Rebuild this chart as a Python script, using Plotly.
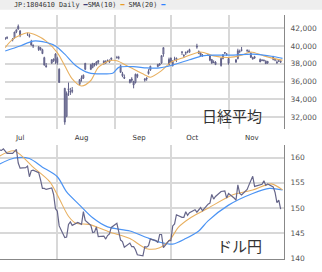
import plotly.graph_objects as go

# ---------------- Nikkei 225 daily OHLC ----------------
nk_dates = ["2024-07-04","2024-07-05","2024-07-08","2024-07-09","2024-07-10","2024-07-11","2024-07-12",
"2024-07-16","2024-07-17","2024-07-18","2024-07-19","2024-07-22","2024-07-23","2024-07-24","2024-07-25",
"2024-07-26","2024-07-29","2024-07-30","2024-07-31","2024-08-01","2024-08-02","2024-08-05","2024-08-06",
"2024-08-07","2024-08-08","2024-08-09","2024-08-13","2024-08-14","2024-08-15","2024-08-16","2024-08-19",
"2024-08-20","2024-08-21","2024-08-22","2024-08-23","2024-08-26","2024-08-27","2024-08-28","2024-08-29",
"2024-08-30","2024-09-02","2024-09-03","2024-09-04","2024-09-05","2024-09-06","2024-09-09","2024-09-10",
"2024-09-11","2024-09-12","2024-09-13","2024-09-17","2024-09-18","2024-09-19","2024-09-20","2024-09-24",
"2024-09-25","2024-09-26","2024-09-27","2024-09-30","2024-10-01","2024-10-02","2024-10-03","2024-10-04",
"2024-10-07","2024-10-08","2024-10-09","2024-10-10","2024-10-11","2024-10-15","2024-10-16","2024-10-17",
"2024-10-18","2024-10-21","2024-10-22","2024-10-23","2024-10-24","2024-10-25","2024-10-28","2024-10-29",
"2024-10-30","2024-10-31","2024-11-01","2024-11-05","2024-11-06","2024-11-07","2024-11-08","2024-11-11",
"2024-11-12","2024-11-13","2024-11-14","2024-11-15","2024-11-18","2024-11-19","2024-11-20","2024-11-21",
"2024-11-22","2024-11-25","2024-11-26","2024-11-27","2024-11-28","2024-11-29"]
nk_open = [40800,40950,40700,40900,41600,41900,41700,41300,41200,40500,40000,39900,39800,39600,38700,
37800,38100,38400,38300,38600,37400,35250,32100,35200,34900,34900,35700,36300,36400,37400,37900,
37600,37900,37900,38200,38300,38100,38300,38200,38500,38700,38700,37800,36900,36500,35900,36300,
36000,35900,36800,36300,36300,36900,37300,37700,38000,38100,39100,38500,38200,38300,38500,38500,
39300,38900,39200,39400,39300,40000,39400,39200,38900,39000,38900,38500,38200,38200,37800,38600,
39200,39100,38600,38200,38600,39400,39600,39500,39400,39200,38700,38800,38500,38400,38400,38300,
38100,38500,38500,38200,38300,38300]
nk_high = [40950,41100,40900,41600,41850,42426,41800,41500,41400,40700,40200,40000,39900,39700,38800,
38100,38500,38600,39200,38800,37500,35300,34900,35900,35300,35400,36300,36700,36800,38100,38000,
38100,38100,38300,38400,38400,38400,38500,38500,38700,38900,38900,37900,37100,36800,36300,36500,
36100,36900,36900,36400,36500,37400,37800,38000,38100,38950,39830,38700,38700,38400,38800,38700,
39400,39100,39400,39500,39700,40257,39500,39300,39100,39100,38950,38500,38400,38300,38700,39100,
39300,39200,38700,38500,39700,39600,39900,39600,39600,39300,38800,38900,38600,38500,38500,38400,
38300,38900,38500,38400,38400,38400]
nk_low = [40700,40780,40530,40850,41450,41850,41000,41150,40950,40050,39780,39450,39500,39100,37800,
37600,38000,38200,38000,37900,35880,31156,32000,34400,34500,34700,35600,36000,36300,37300,37300,
37500,37700,37800,38000,37900,38000,38200,38100,38400,38600,38500,37000,36500,36300,35800,35900,
35250,35800,36400,36000,36100,36800,37200,37600,37800,38000,38800,37800,38100,37700,38400,38200,
39000,38700,39000,39200,39300,39700,39100,38800,38800,38900,38300,38000,38100,37900,37700,38500,
39100,38900,37900,38100,38500,39200,39400,39300,39300,38700,38500,38600,38200,38300,38300,38000,
38000,38400,38300,38000,38200,38100]
nk_close = [40913,40912,40780,41580,41831,42224,41190,41275,41098,40126,40064,39599,39594,39155,37870,
37667,38469,38526,39102,38126,35910,31458,34675,35090,34831,35025,36233,36443,36727,38063,37389,
38063,37951,38211,38364,38110,38288,38372,38363,38648,38701,38686,37047,36657,36392,36215,36159,
35620,36833,36581,36203,36380,37155,37724,37941,37870,38926,39830,37920,38652,37809,38552,38636,
39333,38937,39278,39381,39605,39911,39181,38911,38982,38955,38412,38105,38143,37914,38605,39028,
39277,39081,38054,38475,39481,39381,39500,39533,39377,38722,38536,38643,38221,38414,38352,38026,
38284,38780,38442,38135,38349,38208]

# moving averages (top panel)
nk_sma10_dates = ["2024-07-04","2024-07-08","2024-07-16","2024-07-21","2024-07-26","2024-08-01","2024-08-05",
"2024-08-09","2024-08-14","2024-08-19","2024-08-23","2024-08-29","2024-09-02","2024-09-09","2024-09-17",
"2024-09-20","2024-09-26","2024-10-01","2024-10-08","2024-10-17","2024-10-24","2024-11-01","2024-11-08",
"2024-11-13","2024-11-20","2024-11-27","2024-11-30"]
nk_sma10 = [39830,40750,41490,41190,40560,39270,37790,36320,35510,36130,37610,38350,38350,37610,36760,
36500,37240,38170,38720,39340,38900,38720,38980,39340,38900,38530,38420]
nk_sma20_dates = ["2024-07-04","2024-07-12","2024-07-19","2024-07-24","2024-07-31","2024-08-05","2024-08-11",
"2024-08-18","2024-08-25","2024-08-31","2024-09-03","2024-09-11","2024-09-18","2024-09-25","2024-10-02",
"2024-10-11","2024-10-18","2024-10-25","2024-11-03","2024-11-14","2024-11-25","2024-11-30"]
nk_sma20 = [39450,40010,40560,40490,40010,39090,37790,36980,36870,36980,37610,37690,37540,37540,37870,
38460,38900,38980,38980,39090,38830,38610]

# ---------------- USD/JPY daily close ----------------
fx_dates = ["2024-07-01","2024-07-02","2024-07-03","2024-07-04","2024-07-05","2024-07-08","2024-07-09",
"2024-07-10","2024-07-11","2024-07-12","2024-07-15","2024-07-16","2024-07-17","2024-07-18","2024-07-19",
"2024-07-22","2024-07-23","2024-07-24","2024-07-25","2024-07-26","2024-07-29","2024-07-30","2024-07-31",
"2024-08-01","2024-08-02","2024-08-05","2024-08-06","2024-08-07","2024-08-08","2024-08-09","2024-08-12",
"2024-08-13","2024-08-14","2024-08-15","2024-08-16","2024-08-19","2024-08-20","2024-08-21","2024-08-22",
"2024-08-23","2024-08-26","2024-08-27","2024-08-28","2024-08-29","2024-08-30","2024-09-02","2024-09-03",
"2024-09-04","2024-09-05","2024-09-06","2024-09-09","2024-09-10","2024-09-11","2024-09-12","2024-09-13",
"2024-09-16","2024-09-17","2024-09-18","2024-09-19","2024-09-20","2024-09-23","2024-09-24","2024-09-25",
"2024-09-26","2024-09-27","2024-09-30","2024-10-01","2024-10-02","2024-10-03","2024-10-04","2024-10-07",
"2024-10-08","2024-10-09","2024-10-10","2024-10-11","2024-10-14","2024-10-15","2024-10-16","2024-10-17",
"2024-10-18","2024-10-21","2024-10-22","2024-10-23","2024-10-24","2024-10-25","2024-10-28","2024-10-29",
"2024-10-30","2024-10-31","2024-11-01","2024-11-04","2024-11-05","2024-11-06","2024-11-07","2024-11-08",
"2024-11-11","2024-11-12","2024-11-13","2024-11-14","2024-11-15","2024-11-18","2024-11-19","2024-11-20",
"2024-11-21","2024-11-22","2024-11-25","2024-11-26","2024-11-27","2024-11-28","2024-11-29"]
fx_close = [161.5,161.4,161.7,161.2,160.8,160.8,161.3,161.6,158.9,157.9,158.0,158.3,156.2,157.4,157.5,
157.0,155.6,153.9,153.9,153.7,154.0,152.7,149.9,149.4,146.5,144.2,144.3,146.8,147.3,146.6,147.2,
147.0,146.8,149.3,147.6,146.6,145.2,145.3,146.3,144.4,144.5,143.9,144.6,144.9,146.2,147.0,145.5,
143.7,143.4,142.3,143.1,142.4,142.4,141.8,140.8,140.6,142.4,142.3,142.6,143.9,143.6,143.2,144.8,
144.8,142.2,143.6,143.6,146.5,146.9,148.7,148.2,148.2,149.3,148.6,149.1,149.7,149.2,149.6,150.1,
149.5,150.8,151.0,152.7,151.8,152.3,153.3,153.4,153.4,152.0,152.9,152.0,151.6,154.6,152.9,152.6,
153.7,154.6,155.4,156.3,154.3,154.7,154.7,155.4,154.5,154.8,154.2,153.1,151.1,151.6,149.8]

fx_sma10_dates = ["2024-07-01","2024-07-09","2024-07-19","2024-07-28","2024-08-02","2024-08-07","2024-08-11",
"2024-08-18","2024-08-29","2024-09-09","2024-09-18","2024-09-25","2024-10-01","2024-10-05","2024-10-12",
"2024-10-21","2024-11-03","2024-11-14","2024-11-24","2024-11-30"]
fx_sma10 = [160.3,161.3,158.1,155.2,151.9,148.4,147.0,146.8,145.3,144.0,142.0,142.2,144.0,146.2,148.2,
150.0,152.6,153.6,154.8,153.6]
fx_sma20_dates = ["2024-07-01","2024-07-09","2024-07-17","2024-07-24","2024-08-01","2024-08-06","2024-08-13",
"2024-08-20","2024-08-28","2024-09-09","2024-09-18","2024-09-25","2024-10-02","2024-10-09","2024-10-16",
"2024-10-21","2024-11-01","2024-11-14","2024-11-23","2024-11-30"]
fx_sma20 = [158.7,159.9,159.8,158.1,156.2,153.2,150.6,148.1,146.3,145.5,144.2,143.3,142.9,144.0,145.5,
147.5,150.6,152.9,153.9,153.6]

nk_ticks = [32000, 34000, 36000, 38000, 40000, 42000]
fx_ticks = [140, 145, 150, 155, 160]
month_pos = ["2024-07-12", "2024-08-14", "2024-09-14", "2024-10-12 12:00", "2024-11-13 12:00"]
month_txt = ["Jul", "Aug", "Sep", "Oct", "Nov"]

W, H = 322, 272
PRICE = "#66668a"
ORANGE = "#e8b060"
BLUE = "#4c94f4"
GRID = "#d8d8d8"

fig = go.Figure()
fig.add_trace(go.Candlestick(
    x=nk_dates, open=nk_open, high=nk_high, low=nk_low, close=nk_close,
    increasing=dict(line=dict(color="#606088", width=1), fillcolor="#c0c0d4"),
    decreasing=dict(line=dict(color="#606088", width=1), fillcolor="#8484a4"),
    whiskerwidth=0, xaxis="x", yaxis="y", hoverinfo="skip"))
fig.add_trace(go.Scatter(x=nk_sma10_dates, y=nk_sma10, mode="lines", line=dict(color=ORANGE, width=1.1, shape="spline", smoothing=0.8), xaxis="x", yaxis="y"))
fig.add_trace(go.Scatter(x=nk_sma20_dates, y=nk_sma20, mode="lines", line=dict(color=BLUE, width=1.2, shape="spline", smoothing=0.8), xaxis="x", yaxis="y"))

fig.add_trace(go.Scatter(x=fx_sma20_dates, y=fx_sma20, mode="lines", line=dict(color=BLUE, width=1.2, shape="spline", smoothing=0.8), xaxis="x2", yaxis="y2"))
fig.add_trace(go.Scatter(x=fx_sma10_dates, y=fx_sma10, mode="lines", line=dict(color=ORANGE, width=1.1, shape="spline", smoothing=0.8), xaxis="x2", yaxis="y2"))
fig.add_trace(go.Scatter(x=fx_dates, y=fx_close, mode="lines", line=dict(color=PRICE, width=1.2), xaxis="x2", yaxis="y2"))

tickfont = dict(family="DejaVu Sans", size=7.5, color="#555555")
minor = dict(dtick="M1", tick0="2024-07-01", showgrid=True, gridcolor=GRID, gridwidth=1.5, ticks="")

fig.update_layout(
    width=W, height=H, margin=dict(l=0, r=0, t=0, b=0),
    paper_bgcolor="white", plot_bgcolor="white", showlegend=False,
    xaxis=dict(domain=[5/W, 284/W], range=["2024-07-03 21:17", "2024-11-30 19:12"], type="date",
               tickvals=month_pos, ticktext=month_txt, showgrid=False, ticks="", minor=minor,
               tickfont=dict(family="DejaVu Sans", size=7, color="#333333"), rangeslider=dict(visible=False),
               showline=False, zeroline=False, anchor="y", ticklabelstandoff=3),
    yaxis=dict(domain=[1-131/H, 1-15/H], range=[30671, 43517], side="right", tickvals=nk_ticks,
               tickformat=",d", showgrid=True, gridcolor=GRID, gridwidth=1.5, showline=True,
               linecolor="#888888", linewidth=1, ticks="", tickfont=tickfont, ticklabelstandoff=4,
               zeroline=False, anchor="x"),
    xaxis2=dict(domain=[0, 284/W], range=["2024-07-01 04:48", "2024-11-30 19:12"], type="date",
                showticklabels=False, showgrid=False, ticks="", minor=minor, showline=True,
                linecolor="#888888", linewidth=1, zeroline=False, anchor="y2"),
    yaxis2=dict(domain=[1-263/H, 1-147/H], range=[139.94, 162.5], side="right", tickvals=fx_ticks,
                showgrid=True, gridcolor=GRID, gridwidth=1.5, showline=True, linecolor="#888888",
                linewidth=1, ticks="", tickfont=tickfont, ticklabelstandoff=4, zeroline=False, anchor="x2"),
)

# header bar
fig.add_shape(type="rect", xref="paper", yref="paper", x0=0, x1=1, y0=1-10/H, y1=1,
              fillcolor="#eeeeee", line=dict(width=0), layer="below")
header = ("JP:1804610 Daily <span style='color:#3a3a70'>━</span>SMA(10) "
          "<span style='color:#e89a20'>━</span> SMA(20) <span style='color:#2a7fff'>━</span>")
fig.add_annotation(text=header, xref="paper", yref="paper", x=12/W, y=1-5/H, xanchor="left", yanchor="middle",
                   showarrow=False, font=dict(family="DejaVu Sans Mono", size=6.8, color="#333333"))
fig.add_annotation(text="日経平均", xref="paper", yref="paper", x=232/W, y=1-117.5/H, xanchor="center",
                   yanchor="middle", showarrow=False, font=dict(family="Noto Sans CJK JP", size=15, color="#333333"))
fig.add_annotation(text="ドル円", xref="paper", yref="paper", x=239/W, y=1-249.5/H, xanchor="center",
                   yanchor="middle", showarrow=False, font=dict(family="Noto Sans CJK JP", size=15, color="#333333"))

fig.write_html("out.html")
